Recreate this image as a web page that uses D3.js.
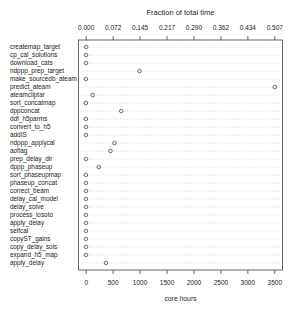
<!DOCTYPE html>
<html>
<head>
<meta charset="utf-8">
<script src="https://cdn.jsdelivr.net/npm/d3@7"></script>
<style>
  body { margin: 0; background: #fff; }
  text { font-family: "Liberation Sans", Arial, sans-serif; fill: #222; }
</style>
</head>
<body>
<div id="chart_container"></div>
<script>
height = 310
width = 299

// task names, top to bottom
steps = ["createmap_target", "cp_cal_solutions", "download_cats", "ndppp_prep_target",
  "make_sourcedb_ateam", "predict_ateam", "ateamcliptar", "sort_concatmap", "dppconcat",
  "ddf_h5parms", "convert_to_h5", "addIS", "ndppp_applycal", "aoflag", "prep_delay_dir",
  "dppp_phaseup", "sort_phaseupmap", "phaseup_concat", "correct_beam", "delay_cal_model",
  "delay_solve", "process_losoto", "apply_delay", "selfcal", "copyST_gains",
  "copy_delay_sols", "expand_h5_map", "apply_delay"]

// core hours per task
hours = [8, 6, 5, 1000, 4, 3510, 130, 3, 660, 3, 5, 4, 535, 460, 6, 243, 3, 4, 5, 4, 6, 3, 5, 4, 3, 5, 6, 377]

bottomTicks = [0, 500, 1000, 1500, 2000, 2500, 3000, 3500]
topTickLabels = ["0.000", "0.072", "0.145", "0.217", "0.290", "0.362", "0.434", "0.507"]

box = ({left: 78.5, right: 282.5, top: 40, bottom: 270})

let x = d3.scaleLinear()
  .domain([0, 3500])
  .range([85.7, 274.3])

let y = d3.scaleLinear()
  .domain([0, steps.length + 1])
  .range([box.top - 0.9, box.bottom + 0.9])

const svg = d3.select('#chart_container').append('svg')
  .attr('width', width)
  .attr('height', height)

// dotted guide lines
svg.append('g')
  .selectAll('line')
  .data(steps)
  .enter()
  .append('line')
  .attr('x1', box.left)
  .attr('x2', box.right)
  .attr('y1', (d, i) => y(i + 1))
  .attr('y2', (d, i) => y(i + 1))
  .attr('stroke', '#c8c8c8')
  .attr('stroke-width', 0.7)
  .attr('stroke-dasharray', '1,1.2')

// labels on the left
svg.append('g')
  .selectAll('text')
  .data(steps)
  .enter()
  .append('text')
  .attr('x', 10)
  .attr('y', (d, i) => y(i + 1))
  .attr('dy', '0.35em')
  .attr('font-size', 6.4)
  .text(d => d)

// points
svg.append('g')
  .selectAll('circle')
  .data(hours)
  .enter()
  .append('circle')
  .attr('cx', d => x(d))
  .attr('cy', (d, i) => y(i + 1))
  .attr('r', 1.8)
  .attr('fill', 'none')
  .attr('stroke', '#333')
  .attr('stroke-width', 0.7)

svg.append('rect')
  .attr('x', box.left)
  .attr('y', box.top)
  .attr('width', box.right - box.left)
  .attr('height', box.bottom - box.top)
  .attr('fill', 'none')
  .attr('stroke', '#666')
  .attr('stroke-width', 1)

// bottom axis
let bottomAxis = svg.append('g')
  .attr('transform', `translate(0,${box.bottom})`)
  .call(d3.axisBottom(x).tickValues(bottomTicks).tickSize(4).tickPadding(6).tickFormat(d3.format('d')))
bottomAxis.select('.domain').remove()

// top axis, same positions, fraction of total time
let topAxis = svg.append('g')
  .attr('transform', `translate(0,${box.top})`)
  .call(d3.axisTop(x).tickValues(bottomTicks).tickSize(4).tickPadding(6).tickFormat((d, i) => topTickLabels[i]))
topAxis.select('.domain').remove()

svg.selectAll('.tick line').attr('stroke', '#444').attr('stroke-width', 0.8)
svg.selectAll('.tick text')
  .attr('font-family', '"Liberation Sans", Arial, sans-serif')
  .attr('font-size', 6.5)
  .attr('fill', '#222')

svg.append('text')
  .attr('x', (box.left + box.right) / 2)
  .attr('y', 12.5)
  .attr('dy', '0.35em')
  .attr('text-anchor', 'middle')
  .attr('font-size', 7.5)
  .text('Fraction of total time')

svg.append('text')
  .attr('x', (box.left + box.right) / 2)
  .attr('y', 298.5)
  .attr('dy', '0.35em')
  .attr('text-anchor', 'middle')
  .attr('font-size', 6.8)
  .text('core hours')
</script>
</body>
</html>
